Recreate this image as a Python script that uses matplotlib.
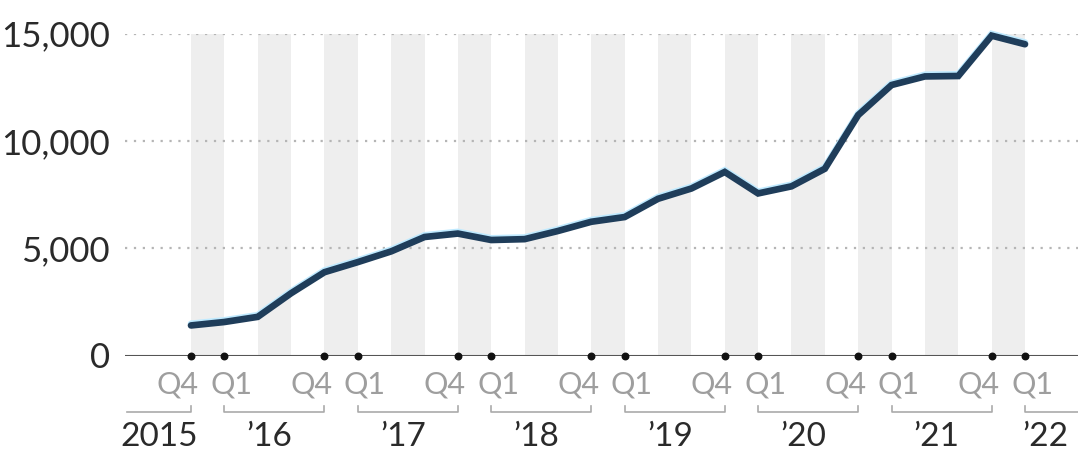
import matplotlib
matplotlib.use("Agg")
import matplotlib.pyplot as plt
import matplotlib.patheffects as pe
from matplotlib.transforms import blended_transform_factory

quarters = ["2015Q4",
            "2016Q1", "2016Q2", "2016Q3", "2016Q4",
            "2017Q1", "2017Q2", "2017Q3", "2017Q4",
            "2018Q1", "2018Q2", "2018Q3", "2018Q4",
            "2019Q1", "2019Q2", "2019Q3", "2019Q4",
            "2020Q1", "2020Q2", "2020Q3", "2020Q4",
            "2021Q1", "2021Q2", "2021Q3", "2021Q4",
            "2022Q1"]
values = [1400, 1560, 1800, 2900, 3880, 4350, 4850, 5520, 5680, 5380,
          5420, 5800, 6230, 6450, 7300, 7780, 8550, 7550, 7880, 8700,
          11200, 12600, 13000, 13020, 14900, 14500]
y_ticks = [0, 5000, 10000, 15000]
y_tick_labels = ["0", "5,000", "10,000", "15,000"]
year_labels = ["2015", "\u201916", "\u201917", "\u201918", "\u201919",
               "\u201920", "\u201921", "\u201922"]

plt.rcParams['font.family'] = ['Lato', 'DejaVu Sans']

W, H = 1078, 454
fig = plt.figure(figsize=(W / 100, H / 100), dpi=100)
left_px, right_px, top_px, bot_px = 125, 1078, 33.5, 355.5
ax = fig.add_axes([left_px / W, 1 - bot_px / H, (right_px - left_px) / W,
                   (bot_px - top_px) / H])

n = len(values)
x = list(range(n))
unit = (1025 - 191) / (n - 1)
x_left = -(191 - left_px) / unit
x_right = (n - 1) + (right_px - 1025) / unit
ax.set_xlim(x_left, x_right)
ax.set_ylim(0, 15000)

# alternating shaded bands
for i in range(0, n - 1, 2):
    ax.axvspan(i, i + 1, ymin=0, ymax=1, color="#eeeeee", lw=0, zorder=0)

# dotted gridlines
for yt in y_ticks[1:]:
    ax.axhline(yt, color="#b5b5b5", lw=1.6, ls=(0, (1, 3)), zorder=1)

# baseline
ax.axhline(0, color="#555555", lw=1.5, zorder=2)

# line
ax.plot(x, values, color="#1f3d5a", lw=4.8, solid_capstyle="round",
        solid_joinstyle="miter", zorder=4, clip_on=False,
        path_effects=[pe.SimpleLineShadow(offset=(0, 1.2), shadow_color="#bfeaff",
                                          alpha=1.0, rho=1.0),
                      pe.Normal()])

# dots at Q4 / Q1 positions
dot_idx = [i for i, q in enumerate(quarters) if q.endswith("Q4") or q.endswith("Q1")]
ax.scatter(dot_idx, [0] * len(dot_idx), s=22, color="#111111", zorder=5,
           clip_on=False)

for s in ax.spines.values():
    s.set_visible(False)
ax.set_xticks([])
ax.set_yticks(y_ticks)
ax.set_yticklabels(y_tick_labels)
ax.tick_params(axis="y", length=0, pad=11, labelsize=25, labelcolor="#2a2a2a")

tr = blended_transform_factory(ax.transData, fig.transFigure)
def fy(px):
    return 1 - px / H

# quarter labels
for i, q in enumerate(quarters):
    if q.endswith("Q4"):
        ax.text(i - 0.39, fy(385), "Q4", transform=tr, ha="center", va="center",
                fontsize=22, color="#9e9e9e")
    elif q.endswith("Q1"):
        ax.text(i + 0.21, fy(385), "Q1", transform=tr, ha="center", va="center",
                fontsize=22, color="#9e9e9e")

# year brackets and labels
q1_idx = [i for i, q in enumerate(quarters) if q.endswith("Q1")]
q4_idx = [i for i, q in enumerate(quarters) if q.endswith("Q4")]
y_br = fy(412)
y_tk = fy(406)
bcol = "#aaaaaa"
# 2015
x0 = -(191 - 127) / unit
ax.plot([x0, 0, 0], [y_br, y_br, y_tk], transform=tr, color=bcol, lw=1.2,
        clip_on=False)
ax.text((x0 + 0) / 2, fy(437), year_labels[0], transform=tr, ha="center",
        va="center", fontsize=24, color="#2a2a2a")
for k, a in enumerate(q1_idx):
    later = [b for b in q4_idx if b > a]
    if later:
        b = later[0]
        ax.plot([a, a, b, b], [y_tk, y_br, y_br, y_tk], transform=tr, color=bcol,
                lw=1.2, clip_on=False)
        cx = (a + b) / 2 - 0.15
    else:
        b = x_right
        ax.plot([a, a, b], [y_tk, y_br, y_br], transform=tr, color=bcol,
                lw=1.2, clip_on=False)
        cx = a + 0.6
    ax.text(cx, fy(437), year_labels[k + 1], transform=tr, ha="center",
            va="center", fontsize=24, color="#2a2a2a")

fig.savefig("out.png", dpi=100, facecolor="white")
